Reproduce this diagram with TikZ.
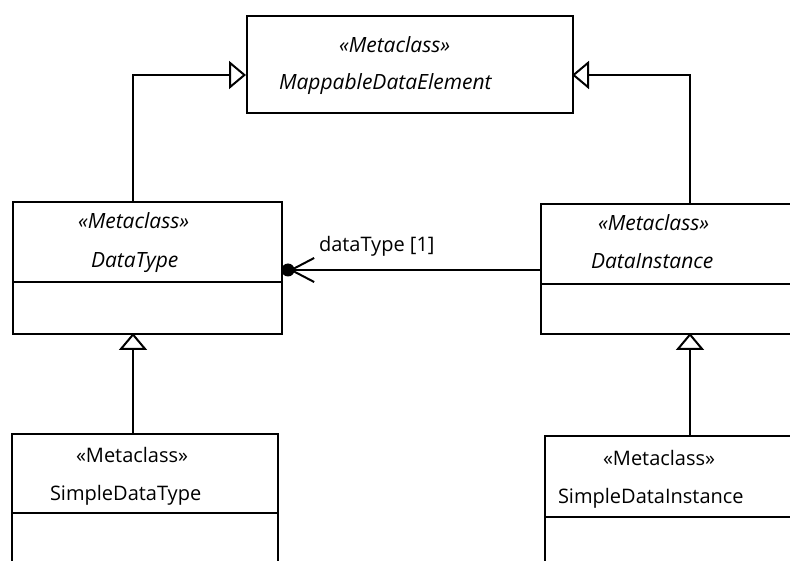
\documentclass[tikz,border=0pt]{standalone}
\usepackage{fontspec}
\setmainfont{Open Sans}
\usetikzlibrary{arrows.meta,calc}
\begin{document}
\begin{tikzpicture}[x=1pt,y=-1pt, line width=2pt,
  cls/.style={draw, line width=2pt, anchor=north west, inner sep=0pt},
  txt/.style={anchor=base west, inner sep=0pt, font=\fontsize{20}{24}\selectfont},
  itxt/.style={anchor=base west, inner sep=0pt, font=\fontsize{21}{25}\selectfont\itshape},
  gen/.style={-{Triangle[open, length=17pt, width=28pt, line width=2pt]}, line width=2pt},
  assoc/.style={-{Straight Barb[length=23pt, width=24pt, line width=2pt]}, line width=2pt},
  ]
\useasboundingbox (0,0) rectangle (790,561);
\clip (0,0) rectangle (790,561);

% class boxes
\node[cls, minimum width=326pt, minimum height=97pt] (mde) at (246,15) {};
\node[cls, minimum width=269pt, minimum height=132pt] (dt) at (12,201) {};
\node[cls, minimum width=270pt, minimum height=130pt] (di) at (540,203) {};
\node[cls, minimum width=266pt, minimum height=150pt] (sdt) at (11,433) {};
\node[cls, minimum width=270pt, minimum height=150pt] (sdi) at (544,435) {};

% dividers
\draw ($(dt.north west)+(0,81)$) -- ($(dt.north east)+(0,81)$);
\draw ($(di.north west)+(0,81)$) -- ($(di.north east)+(0,81)$);
\draw ($(sdt.north west)+(0,80)$) -- ($(sdt.north east)+(0,80)$);
\draw ($(sdi.north west)+(0,82)$) -- ($(sdi.north east)+(0,82)$);

% texts
\node[itxt] (mdeS) at (338,53) {«Metaclass»};
\node[itxt] (mdeN) at (278,90) {MappableDataElement};
\node[itxt] (dtS) at (77,229) {«Metaclass»};
\node[itxt] (dtN) at (90,268) {DataType};
\node[itxt] (diS) at (597,231) {«Metaclass»};
\node[itxt] (diN) at (590,269) {DataInstance};
\node[txt] (sdtS) at (75,462) {«Metaclass»};
\node[txt] (sdtN) at (49,500) {SimpleDataType};
\node[txt] (sdiS) at (602,465) {«Metaclass»};
\node[txt] (sdiN) at (557,503) {SimpleDataInstance};
\node[txt] (lbl) at (318,252) {dataType [1]};

% attachment points
\coordinate (mdeL) at (246,75);
\coordinate (mdeR) at (572,75);
\coordinate (dtTop) at (133,201);
\coordinate (dtBot) at (133,333);
\coordinate (diTop) at (690,203);
\coordinate (diBot) at (690,333);
\coordinate (sdtTop) at (133,433);
\coordinate (sdiTop) at (690,435);
\coordinate (assocS) at (540,270);
\coordinate (assocE) at (289,270);

% generalizations
\draw[gen] (dtTop) |- (mdeL);
\draw[gen] (diTop) |- (mdeR);
\draw[gen] (sdtTop) -- (dtBot);
\draw[gen] (sdiTop) -- (diBot);

% association
\draw[assoc] (assocS) -- (assocE);
\node[circle, fill=black, inner sep=0pt, minimum size=13pt] (dot) at (288,270) {};
\end{tikzpicture}
\end{document}
